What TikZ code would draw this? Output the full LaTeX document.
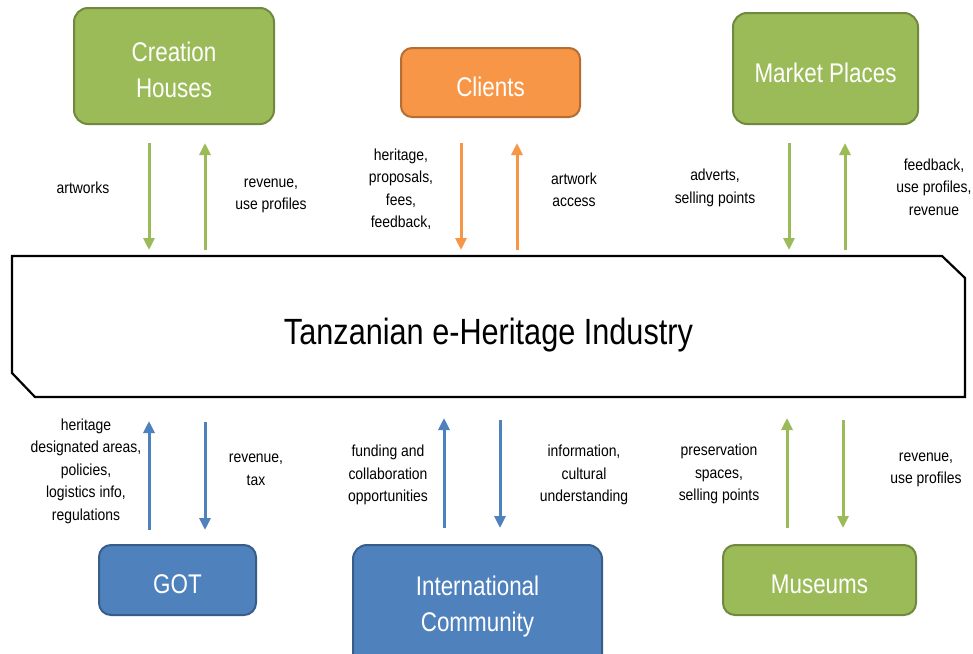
\documentclass[tikz,border=0pt]{standalone}
\usepackage{fontspec}
\setmainfont{Liberation Sans}
\newfontfamily\narrowfont[FakeStretch=0.83]{Liberation Sans}
\newfontfamily\centrefont[FakeStretch=0.84]{Liberation Sans}
\newfontfamily\labelfont[FakeStretch=0.87]{Liberation Sans}
\usetikzlibrary{arrows.meta}
\definecolor{grfill}{HTML}{9BBB59}
\definecolor{grline}{HTML}{71893F}
\definecolor{orfill}{HTML}{F79646}
\definecolor{orline}{HTML}{B66D31}
\definecolor{blfill}{HTML}{4F81BD}
\definecolor{blline}{HTML}{385D8A}
\tikzset{
  box/.style={rounded corners=14pt, line width=2pt, inner sep=0pt},
  gbox/.style={box, fill=grfill, draw=grline},
  obox/.style={box, fill=orfill, draw=orline},
  bbox/.style={box, fill=blfill, draw=blline},
  btext/.style={text=white, align=center, font=\narrowfont\fontsize{27}{36}\selectfont, inner sep=0pt, yshift=-4pt},
  lbl/.style={align=center, font=\labelfont\fontsize{16}{22.5}\selectfont, inner sep=0pt, yshift=-2pt},
  flow/.style={line width=3pt, -{Triangle[width=11pt,length=12pt]}},
  gflow/.style={flow, draw=grfill},
  oflow/.style={flow, draw=orfill},
  bflow/.style={flow, draw=blfill}
}
\begin{document}
\begin{tikzpicture}[x=1pt,y=-1pt]
\clip (0,0) rectangle (973,653);
\fill[white] (0,0) rectangle (973,653);

% top boxes
\node[gbox, minimum width=200pt, minimum height=116pt] (ch) at (174,66) {};
\node[btext] (cht) at (ch.center) {Creation\\Houses};
\node[obox, minimum width=179pt, minimum height=69pt, rounded corners=11pt] (cl) at (490.5,82.5) {};
\node[btext] (clt) at (cl.center) {Clients};
\node[gbox, minimum width=185pt, minimum height=111pt] (mp) at (825.5,68.5) {};
\node[btext] (mpt) at (mp.center) {Market Places};

% bottom boxes
\node[bbox, minimum width=157pt, minimum height=70pt, rounded corners=12pt] (got) at (177.5,580) {};
\node[btext] (gott) at (got.center) {GOT};
\node[bbox, minimum width=249pt, minimum height=130pt] (ic) at (477.5,610) {};
\node[btext] (ict) at (477.5,603) {International\\Community};
\node[gbox, minimum width=193pt, minimum height=70pt, rounded corners=12pt] (mu) at (819.5,580) {};
\node[btext] (mut) at (mu.center) {Museums};

% central shape
\coordinate (i1) at (12,256);
\coordinate (i2) at (942,256);
\coordinate (i3) at (965,278);
\coordinate (i4) at (965,397);
\coordinate (i5) at (35,397);
\coordinate (i6) at (12,373);
\draw[line width=2.2pt, fill=white, line join=miter] (i1) -- (i2) -- (i3) -- (i4) -- (i5) -- (i6) -- cycle;
\node[font=\centrefont\fontsize{36.5}{40}\selectfont, inner sep=0pt] (ind) at (488.5,335) {Tanzanian e-Heritage Industry};

% arrow end points
\coordinate (a1s) at (149,143); \coordinate (a1e) at (149,250);
\coordinate (a2s) at (205,250); \coordinate (a2e) at (205,143);
\coordinate (a3s) at (461,143); \coordinate (a3e) at (461,250);
\coordinate (a4s) at (517,250); \coordinate (a4e) at (517,143);
\coordinate (a5s) at (789,143); \coordinate (a5e) at (789,250);
\coordinate (a6s) at (845,250); \coordinate (a6e) at (845,143);
\coordinate (b1s) at (149,530); \coordinate (b1e) at (149,421);
\coordinate (b2s) at (205,422); \coordinate (b2e) at (205,530);
\coordinate (b3s) at (444,528); \coordinate (b3e) at (444,418);
\coordinate (b4s) at (500,420); \coordinate (b4e) at (500,528);
\coordinate (b5s) at (787,528); \coordinate (b5e) at (787,418);
\coordinate (b6s) at (843,420); \coordinate (b6e) at (843,528);

\draw[gflow] (a1s) -- (a1e);
\draw[gflow] (a2s) -- (a2e);
\draw[oflow] (a3s) -- (a3e);
\draw[oflow] (a4s) -- (a4e);
\draw[gflow] (a5s) -- (a5e);
\draw[gflow] (a6s) -- (a6e);
\draw[bflow] (b1s) -- (b1e);
\draw[bflow] (b2s) -- (b2e);
\draw[bflow] (b3s) -- (b3e);
\draw[bflow] (b4s) -- (b4e);
\draw[gflow] (b5s) -- (b5e);
\draw[gflow] (b6s) -- (b6e);

% labels
\node[lbl] (l1) at (83,186) {artworks};
\node[lbl] (l2) at (271,194) {revenue,\\use profiles};
\node[lbl] (l3) at (401,187) {heritage,\\proposals,\\fees,\\feedback,};
\node[lbl] (l4) at (574,188) {artwork\\access};
\node[lbl] (l5) at (715,186) {adverts,\\selling points};
\node[lbl] (l6) at (934,185) {feedback,\\use profiles,\\revenue};
\node[lbl] (l7) at (86,469) {heritage\\designated areas,\\policies,\\logistics info,\\regulations};
\node[lbl] (l8) at (256,468) {revenue,\\tax};
\node[lbl] (l9) at (388,473) {funding and\\collaboration\\opportunities};
\node[lbl] (l10) at (584,473) {information,\\cultural\\understanding};
\node[lbl] (l11) at (719,472) {preservation\\spaces,\\selling points};
\node[lbl] (l12) at (926,468) {revenue,\\use profiles};
\end{tikzpicture}
\end{document}
